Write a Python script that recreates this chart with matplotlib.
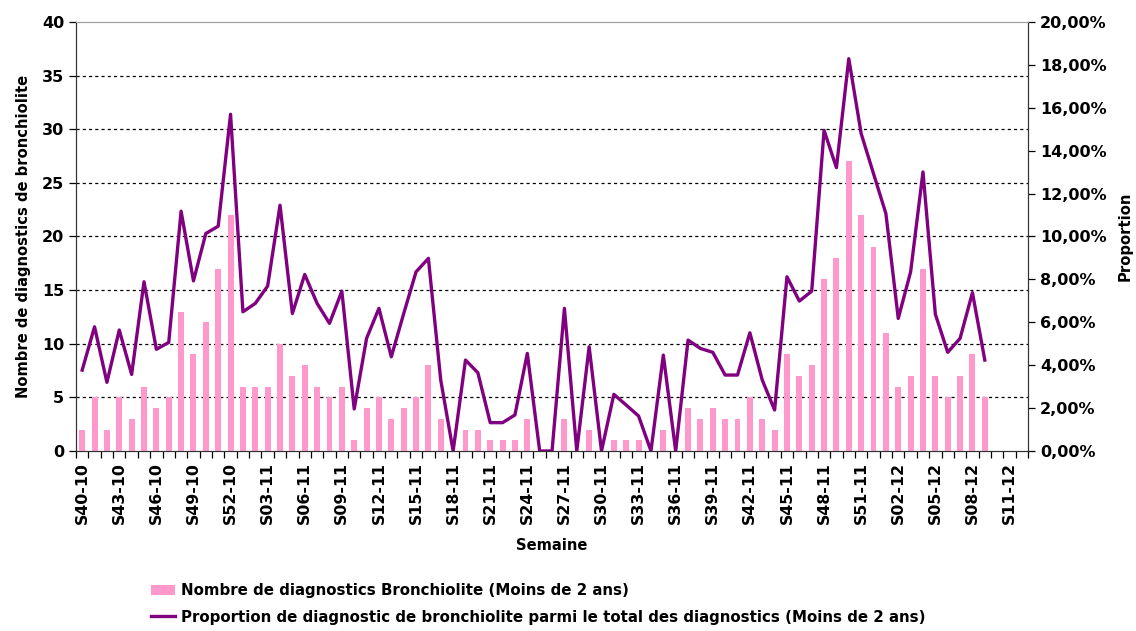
import numpy as np
import matplotlib
matplotlib.use("Agg")
from matplotlib import pyplot as plt
from matplotlib.ticker import FuncFormatter, MultipleLocator

plt.rcParams['font.family'] = ['DejaVu Sans']
plt.rcParams['font.weight'] = 'bold'

# semaines S40-10 ... S12-12
weeks = (["S%02d-10" % w for w in range(40, 53)]
         + ["S%02d-11" % w for w in range(1, 53)]
         + ["S%02d-12" % w for w in range(1, 13)])

nb_bronchiolite = [2, 5, 2, 5, 3, 6, 4, 5, 13, 9, 12, 17, 22,
                   6, 6, 6, 10, 7, 8, 6, 5, 6, 1, 4, 5, 3,
                   4, 5, 8, 3, 0, 2, 2, 1, 1, 1, 3, 0, 0, 3,
                   0, 2, 0, 1, 1, 1, 0, 2, 0, 4, 3, 4, 3, 3,
                   5, 3, 2, 9, 7, 8, 16, 18, 27, 22, 19,
                   11, 6, 7, 17, 7, 5, 7, 9, 5]

proportion = [3.77, 5.79, 3.20, 5.64, 3.57, 7.89, 4.74, 5.06, 11.18, 7.93,
              10.14, 10.48, 15.70, 6.49, 6.88, 7.69, 11.46, 6.41, 8.23, 6.88,
              5.95, 7.45, 1.96, 5.25, 6.65, 4.39, 6.40, 8.35, 8.98, 3.30,
              0.0, 4.24, 3.65, 1.32, 1.32, 1.68, 4.55, 0.0, 0.0, 6.65,
              0.0, 4.86, 0.0, 2.64, 2.14, 1.63, 0.0, 4.47, 0.0, 5.17,
              4.78, 4.60, 3.54, 3.54, 5.51, 3.31, 1.91, 8.12, 6.99, 7.45,
              14.95, 13.21, 18.29, 14.80, 12.93, 11.07, 6.18, 8.35, 13.01, 6.38,
              4.60, 5.25, 7.38, 4.24]

fig = plt.figure(figsize=(11.36, 6.31), dpi=100)
ax = fig.add_axes([0.0669, 0.2853, 0.8381, 0.6798])
ax2 = ax.twinx()

x_bar = np.arange(len(nb_bronchiolite))
bars = ax.bar(x_bar, nb_bronchiolite, width=0.48, color="#FF99CC",
              label="Nombre de diagnostics Bronchiolite (Moins de 2 ans)", zorder=3)
line, = ax2.plot(np.arange(len(proportion)), proportion, color="#800080", lw=2.4,
                 label="Proportion de diagnostic de bronchiolite parmi le total des diagnostics (Moins de 2 ans)")

ax.set_xlim(-0.5, len(weeks) - 0.5)
ax.set_ylim(0, 40)
ax2.set_ylim(0, 20)

ax.yaxis.set_major_locator(MultipleLocator(5))
ax2.yaxis.set_major_locator(MultipleLocator(2))
ax2.yaxis.set_major_formatter(FuncFormatter(lambda v, p: ("%.2f%%" % v).replace(".", ",")))

for yv in range(5, 40, 5):
    ax.axhline(yv, color="black", lw=0.9, ls=(0, (2.5, 2.5)), zorder=1)

tick_pos = np.arange(0, len(weeks), 3)
ax.set_xticks(tick_pos)
ax.set_xticklabels([weeks[i] for i in tick_pos], rotation=90, fontsize=11.3)
ax.set_xticks(np.arange(len(weeks) + 1) - 0.5, minor=True)
ax.tick_params(axis="x", which="major", length=0, pad=8)
ax.tick_params(axis="x", which="minor", length=5, width=0.9, direction="out")
ax.tick_params(axis="y", labelsize=11.5, length=5, width=0.9)
ax2.tick_params(axis="y", labelsize=11.5, length=5, width=0.9)

for a in (ax, ax2):
    a.spines["top"].set_color("#A0A0A0")
    a.spines["left"].set_color("#333333")
    a.spines["right"].set_color("#333333")
    a.spines["bottom"].set_color("#333333")

ax.set_ylabel("Nombre de diagnostics de bronchiolite", fontsize=10.6, fontweight="bold", labelpad=8)
ax2.set_ylabel("Proportion", fontsize=10.6, fontweight="bold", labelpad=8)
ax.set_xlabel("Semaine", fontsize=10.6, fontweight="bold", labelpad=10)

fig.legend(handles=[bars, line], loc="upper left", bbox_to_anchor=(0.128, 0.085),
           frameon=False, fontsize=10.8, handlelength=1.6, handletextpad=0.4,
           labelspacing=0.75, borderaxespad=0)

fig.savefig("out.png", dpi=100)
